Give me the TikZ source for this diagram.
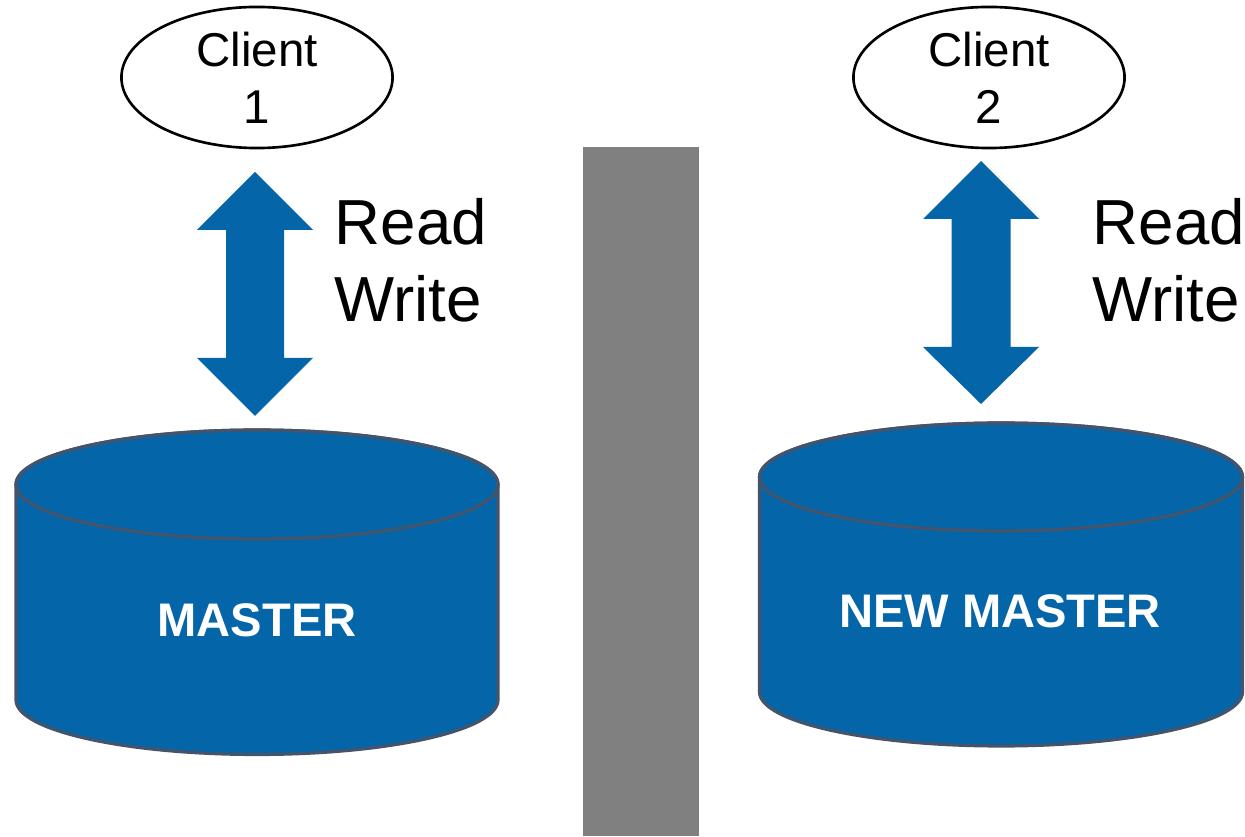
\documentclass[tikz,border=0pt]{standalone}
\usepackage{fontspec}
\setmainfont{Liberation Sans}
\usetikzlibrary{shapes.geometric}
\definecolor{dbblue}{HTML}{0465A8}
\definecolor{dbedge}{HTML}{44546A}
\definecolor{wallgray}{HTML}{808080}
\begin{document}
\begin{tikzpicture}[x=0.01cm,y=0.01cm,
  client/.style={draw=black, line width=0.75pt, ellipse, inner sep=0pt,
    minimum width=2.71cm, minimum height=1.41cm, align=center,
    font=\fontsize{13.5}{16.2}\selectfont},
  rwlabel/.style={anchor=north west, inner sep=0pt, align=left,
    font=\fontsize{18.1}{21.9}\selectfont},
  blockarrow/.style={fill=dbblue},
  dbbody/.style={fill=dbblue, draw=dbedge, line width=0.9pt},
  dbrim/.style={draw=dbedge, line width=0.9pt},
  dblabel/.style={text=white, inner sep=0pt,
    font=\fontsize{13.4}{16}\selectfont\bfseries}]
\useasboundingbox (0,0) rectangle (1245,836);

% partition wall
\fill[wallgray] (583,0) rectangle (699,689);

% clients
\node[client] (c1) at (257,758.5) {Client\\1};
\node[client] (c2) at (989,758.5) {Client\\2};

% read/write block arrows
\fill[blockarrow] (255,664) -- (313,606) -- (284,606) -- (284,478) -- (313,478)
  -- (255,420) -- (197,478) -- (226,478) -- (226,606) -- (197,606) -- cycle;
\fill[blockarrow] (981,675) -- (1039,617) -- (1010.5,617) -- (1010.5,489) -- (1039,489)
  -- (981,432) -- (923,489) -- (951.5,489) -- (951.5,617) -- (923,617) -- cycle;

\node[rwlabel] (rw1) at (334,638) {Read\\Write};
\node[rwlabel] (rw2) at (1092,638) {Read\\Write};

% databases
\path[dbbody] (16,351.5) -- (16,136)
  arc[start angle=180, end angle=360, x radius=241, y radius=54.5]
  -- (498,351.5)
  arc[start angle=0, end angle=180, x radius=241, y radius=54.5] -- cycle;
\draw[dbrim] (257,351.5) ellipse [x radius=241, y radius=54.5];
\node[dblabel] (m1) at (257,215.5) {MASTER};

\path[dbbody] (759.5,359) -- (759.5,144)
  arc[start angle=180, end angle=360, x radius=241.5, y radius=54]
  -- (1242.5,359)
  arc[start angle=0, end angle=180, x radius=241.5, y radius=54] -- cycle;
\draw[dbrim] (1001,359) ellipse [x radius=241.5, y radius=54];
\node[dblabel] (m2) at (1000,224.5) {NEW MASTER};
\end{tikzpicture}
\end{document}
